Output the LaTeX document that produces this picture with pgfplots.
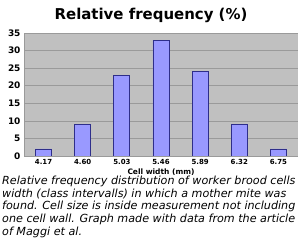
\documentclass[border=0pt]{standalone}
\usepackage{pgfplots}
\pgfplotsset{compat=1.18}
\usepackage{fontspec}
\setmainfont{DejaVu Sans}
\definecolor{plotbg}{HTML}{C0C0C0}
\definecolor{gridc}{HTML}{9A9A9A}
\definecolor{barfill}{HTML}{9999FF}
\definecolor{baredge}{HTML}{2E2E8A}
\begin{document}
\begin{tikzpicture}
\useasboundingbox (0,0) rectangle (300bp,244bp);
\node[font=\bfseries\fontsize{15}{18}\selectfont] at (151bp,229bp) {Relative frequency (\%)};
\begin{axis}[
  at={(24bp,88bp)}, anchor=south west,
  scale only axis, width=274bp, height=123bp,
  xmin=-0.5, xmax=6.5, ymin=0, ymax=35,
  axis background/.style={fill=plotbg},
  axis line style={draw=gridc},
  axis x line*=bottom, axis y line*=left,
  ytick={0,5,...,35},
  ymajorgrids, grid style={draw=gridc, line width=0.6bp},
  xtick={0,...,6},
  xticklabels={4.17,4.60,5.03,5.46,5.89,6.32,6.75},
  major x tick style={draw=none},
  extra x ticks={-0.5,0.5,...,6.5},
  extra x tick labels={},
  extra x tick style={major tick length=3bp, tick pos=bottom, tick align=outside, tick style={draw=gridc}},
  ytick style={draw=none},
  /pgf/number format/assume math mode=true,
  ticklabel style={font=\bfseries\fontsize{7}{8}\selectfont},
  yticklabel style={font=\bfseries\fontsize{9}{10}\selectfont},
  xlabel={Cell width (mm)},
  xlabel style={font=\bfseries\fontsize{7.5}{8}\selectfont, yshift=6bp},
  x tick label style={yshift=0bp},
]
\addplot[ybar, bar width=16bp, fill=barfill, draw=baredge, line width=0.8bp] coordinates {
(0,2) (1,9) (2,23) (3,33) (4,24) (5,9) (6,2)};
\end{axis}
\node[anchor=north west, align=left, inner sep=0pt,
      font=\itshape\fontsize{11.2}{12.9}\selectfont] at (2bp,68.5bp)
{Relative frequency distribution of worker brood cells\\ width (class intervalls) in which a mother mite was\\ found. Cell size is inside measurement not including\\ one cell wall. Graph made with data from the article\\ of Maggi et al.};
\end{tikzpicture}
\end{document}
